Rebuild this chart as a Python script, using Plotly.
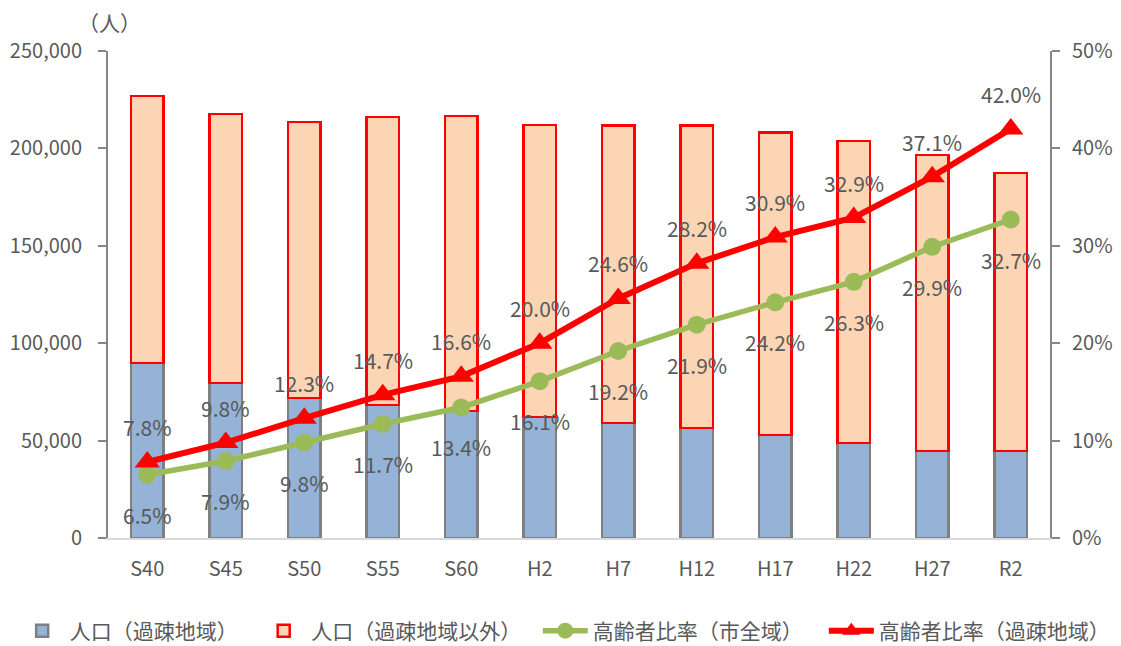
import plotly.graph_objects as go

categories = ["S40", "S45", "S50", "S55", "S60", "H2", "H7", "H12", "H17", "H22", "H27", "R2"]
pop_kaso = [89800, 79600, 71900, 68300, 65200, 62100, 59000, 56500, 52900, 48800, 44700, 44700]
pop_other = [137100, 138100, 141700, 147800, 151400, 149900, 152700, 155200, 155200, 155000, 151900, 142700]
ratio_city = [6.5, 7.9, 9.8, 11.7, 13.4, 16.1, 19.2, 21.9, 24.2, 26.3, 29.9, 32.7]
ratio_kaso = [7.8, 9.8, 12.3, 14.7, 16.6, 20.0, 24.6, 28.2, 30.9, 32.9, 37.1, 42.0]

FONT = "Noto Sans CJK JP"
GRAY = "#595959"
AXIS = "#868686"

fig = go.Figure()
fig.add_trace(go.Bar(
    x=categories, y=pop_kaso, name="人口（過疎地域）", legend="legend",
    marker=dict(color="#95b3d7", line=dict(color="#7f7f7f", width=2.5)),
    width=0.41,
))
fig.add_trace(go.Bar(
    x=categories, y=pop_other, name="人口（過疎地域以外）", legend="legend2",
    marker=dict(color="#fcd5b5", line=dict(color="#ff0000", width=2.5)),
    width=0.41,
))
fig.add_trace(go.Scatter(
    x=categories, y=ratio_city, name="高齢者比率（市全域）", yaxis="y2", legend="legend3",
    mode="lines+markers",
    line=dict(color="#9bbb59", width=5.5),
    marker=dict(symbol="circle", size=18, color="#9bbb59"),
))
fig.add_trace(go.Scatter(
    x=categories, y=ratio_kaso, name="高齢者比率（過疎地域）", yaxis="y2", legend="legend4",
    mode="lines+markers",
    line=dict(color="#ff0000", width=6),
    marker=dict(symbol="triangle-up", size=22, color="#ff0000"),
))

annotations = []
for c, v in zip(categories, ratio_kaso):
    annotations.append(dict(x=c, y=v, xref="x", yref="y2", text=f"{v:.1f}%",
                            showarrow=False, yshift=35,
                            font=dict(family=FONT, size=21, color=GRAY)))
for c, v in zip(categories, ratio_city):
    annotations.append(dict(x=c, y=v, xref="x", yref="y2", text=f"{v:.1f}%",
                            showarrow=False, yshift=-40,
                            font=dict(family=FONT, size=21, color=GRAY)))
annotations.append(dict(x=0.002, y=1.06, xref="paper", yref="paper", text="（人）",
                        showarrow=False, xanchor="center", yanchor="middle",
                        font=dict(family=FONT, size=21, color=GRAY)))


def leg(xpos):
    return dict(orientation="h", xref="container", yref="container",
                x=xpos, xanchor="left", y=0.0235, yanchor="middle",
                font=dict(family=FONT, size=21, color=GRAY),
                itemwidth=45, bgcolor="rgba(0,0,0,0)")


fig.update_layout(
    width=1113, height=638,
    margin=dict(l=100, r=71, t=43, b=108, autoexpand=False),
    paper_bgcolor="white", plot_bgcolor="white",
    barmode="stack",
    font=dict(family=FONT, size=20, color=GRAY),
    showlegend=True,
    legend=leg(0.006),
    legend2=leg(0.223),
    legend3=leg(0.476),
    legend4=leg(0.733),
    xaxis=dict(range=[-0.5, 11.5], showline=True, linecolor="#d9d9d9", linewidth=2,
               ticks="", showgrid=False, ticklabelstandoff=12, automargin=False,
               tickfont=dict(family=FONT, size=20, color=GRAY)),
    yaxis=dict(range=[0, 250000], dtick=50000, tickformat=",",
               showline=True, linecolor=AXIS, linewidth=2, automargin=False,
               ticks="outside", ticklen=8, tickcolor=AXIS, tickwidth=2,
               showgrid=False, zeroline=False, ticklabelstandoff=12,
               tickfont=dict(family=FONT, size=20, color=GRAY)),
    yaxis2=dict(range=[0, 50], dtick=10, ticksuffix="%", overlaying="y", side="right",
                showline=True, linecolor=AXIS, linewidth=2, automargin=False,
                ticks="outside", ticklen=8, tickcolor=AXIS, tickwidth=2,
                showgrid=False, zeroline=False, ticklabelstandoff=8,
                tickfont=dict(family=FONT, size=20, color=GRAY)),
    annotations=annotations,
)

fig.write_html("out.html")
